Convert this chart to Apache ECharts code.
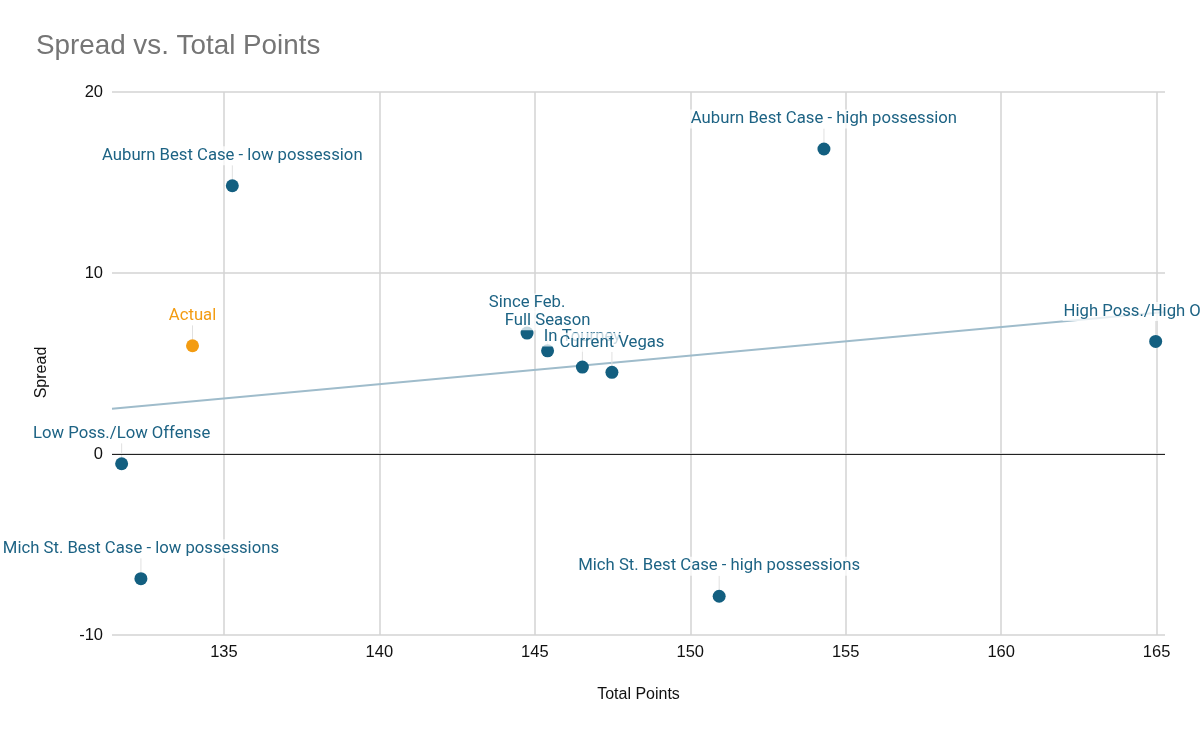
<!DOCTYPE html>
<html>

<head>
    <meta charset="utf-8">
    <title>Spread vs. Total Points</title>
    <script src="https://cdn.jsdelivr.net/npm/echarts@6/dist/echarts.min.js"></script>
</head>

<body style="margin:0;">
    <div id="main" style="width: 1200px;height:734px;"></div>

    <script type="text/javascript">

        // scenario points
        var names = [
            'Auburn Best Case - low possession',
            'Auburn Best Case - high possession',
            'Since Feb.',
            'Full Season',
            'In Tourney',
            'Current Vegas',
            'High Poss./High Offense',
            'Low Poss./Low Offense',
            'Mich St. Best Case - low possessions',
            'Mich St. Best Case - high possessions'
        ];
        var totalPoints = [135.27, 154.30, 144.75, 145.41, 146.53, 147.48, 164.97, 131.71, 132.33, 150.93];
        var spreads = [14.82, 16.85, 6.68, 5.70, 4.80, 4.51, 6.22, -0.54, -6.89, -7.86];

        // actual result
        var actualName = 'Actual';
        var actualX = 133.99;
        var actualY = 5.98;

        // trendline ends
        var trendX = [131.4, 165.27];
        var trendY = [2.50, 7.85];

        var xTicks = [135, 140, 145, 150, 155, 160, 165];
        var yTicks = [-10, 0, 10, 20];

        var pointColor = '#135f80';
        var labelColor = '#1d6384';
        var actualColor = '#f39c12';

        function labelOpt(color) {
            return {
                show: true,
                position: 'top',
                distance: 4,
                formatter: '{b}',
                color: color,
                fontFamily: 'Roboto',
                fontSize: 16.7,
                backgroundColor: 'rgba(255,255,255,0.75)',
                padding: [1, 1]
            };
        }

        var pts = names.map(function (n, i) {
            return { name: n, value: [totalPoints[i], spreads[i]] };
        });

        var chart = echarts.init(document.getElementById('main'));

        var option = {
            animation: false,
            backgroundColor: '#fff',
            title: {
                text: 'Spread vs. Total Points',
                left: 31,
                top: 27,
                textStyle: {
                    color: '#757575',
                    fontFamily: 'Liberation Sans',
                    fontSize: 27.8,
                    fontWeight: 'normal'
                }
            },
            grid: {
                left: 112,
                right: 35,
                top: 92,
                bottom: 99
            },
            xAxis: {
                type: 'value',
                min: trendX[0],
                max: trendX[1],
                name: 'Total Points',
                nameLocation: 'middle',
                nameGap: 52,
                nameTextStyle: { color: '#111', fontFamily: 'Liberation Sans', fontSize: 16 },
                axisLine: { show: false },
                axisTick: { show: false },
                axisLabel: {
                    color: '#111',
                    fontFamily: 'Liberation Sans',
                    fontSize: 16.5,
                    margin: 9,
                    showMinLabel: false,
                    showMaxLabel: false,
                    formatter: function (v) { return xTicks.indexOf(v) >= 0 ? v : ''; }
                },
                splitLine: {
                    show: true,
                    showMinLine: false,
                    showMaxLine: false,
                    lineStyle: { color: '#d3d3d3', width: 1.5 }
                }
            },
            yAxis: {
                type: 'value',
                min: yTicks[0],
                max: yTicks[yTicks.length - 1],
                interval: 10,
                name: 'Spread',
                nameLocation: 'middle',
                nameGap: 62,
                nameTextStyle: { color: '#111', fontFamily: 'Liberation Sans', fontSize: 16, padding: [0, 0, 0, -18] },
                axisLine: { show: false },
                axisTick: { show: false },
                axisLabel: {
                    color: '#111',
                    fontFamily: 'Liberation Sans',
                    fontSize: 16.5,
                    margin: 9
                },
                splitLine: { lineStyle: { color: '#d3d3d3', width: 1.5 } }
            },
            series: [
                {
                    type: 'line',
                    data: [[trendX[0], trendY[0]], [trendX[1], trendY[1]]],
                    showSymbol: false,
                    silent: true,
                    lineStyle: { color: '#9fbccb', width: 2 },
                    markLine: {
                        silent: true,
                        symbol: 'none',
                        label: { show: false },
                        lineStyle: { color: '#222', width: 1.2, type: 'solid' },
                        data: [{ yAxis: 0 }]
                    },
                    z: 1
                },
                {
                    type: 'scatter',
                    data: pts,
                    symbolSize: 13,
                    itemStyle: { color: pointColor, opacity: 1 },
                    label: labelOpt(labelColor),
                    labelLayout: { dy: -10 },
                    labelLine: { show: true, lineStyle: { color: '#e0e0e0', width: 1 } },
                    z: 3
                },
                {
                    type: 'scatter',
                    data: [{ name: actualName, value: [actualX, actualY] }],
                    symbolSize: 13,
                    itemStyle: { color: actualColor, opacity: 1 },
                    label: labelOpt(actualColor),
                    labelLayout: { dy: -10 },
                    labelLine: { show: true, lineStyle: { color: '#e0e0e0', width: 1 } },
                    z: 3
                }
            ]
        };

        chart.setOption(option);

    </script>
</body>

</html>
